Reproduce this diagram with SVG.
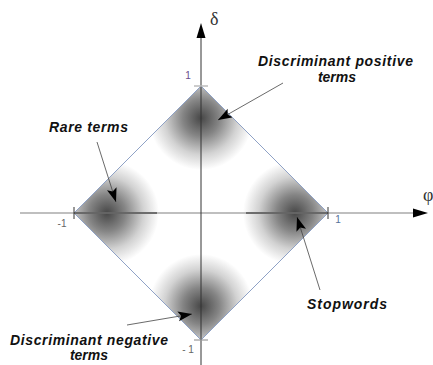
<svg xmlns="http://www.w3.org/2000/svg" width="433" height="365" viewBox="0 0 433 365">
<style>
.lbl{font-family:"Liberation Sans",Arial,sans-serif;font-style:italic;font-weight:bold;font-size:14px;fill:#111;text-anchor:middle}
.num{font-family:"Liberation Sans",Arial,sans-serif;font-size:10px;text-anchor:middle}
.greek{font-family:"Liberation Serif","DejaVu Serif",serif;font-size:18px;fill:#333}
.ptr{stroke:#444;stroke-width:0.8;fill:none;marker-end:url(#ah)}
</style>
<defs>
<radialGradient id="blob">
<stop offset="0" stop-color="#333" stop-opacity="0.9"/>
<stop offset="0.35" stop-color="#333" stop-opacity="0.6"/>
<stop offset="0.7" stop-color="#333" stop-opacity="0.22"/>
<stop offset="1" stop-color="#333" stop-opacity="0"/>
</radialGradient>
<clipPath id="dc"><polygon points="201,86 328,213 201,340 74,213"/></clipPath>
<marker id="ah" markerUnits="userSpaceOnUse" markerWidth="15" markerHeight="11" refX="14" refY="5" orient="auto" viewBox="0 0 15 11">
<path d="M0,0 L14,5 L0,10 L3,5 z" fill="#000"/>
</marker>
</defs>
<g id="diamond">
<polygon points="201,86 328,213 201,340 74,213" fill="#fff"/>
<g clip-path="url(#dc)">
<circle cx="201" cy="118" r="52" fill="url(#blob)"/>
<circle cx="107" cy="213" r="52" fill="url(#blob)"/>
<circle cx="295" cy="213" r="52" fill="url(#blob)"/>
<circle cx="201" cy="306" r="52" fill="url(#blob)"/>
</g>
<polygon points="201,86 328,213 201,340 74,213" fill="none" stroke="#8fa2c6" stroke-width="1"/>
</g>
<g id="axes">
<line x1="20" y1="213" x2="414" y2="213" stroke="#aaa" stroke-width="1.5"/>
<line x1="74" y1="213" x2="157" y2="213" stroke="#555" stroke-width="1.5"/>
<line x1="246" y1="213" x2="328" y2="213" stroke="#555" stroke-width="1.5"/>
<polygon points="428,213 413,208.5 413,217.5" fill="#000"/>
<line x1="201" y1="37" x2="201" y2="365" stroke="#333" stroke-width="1"/>
<polygon points="201,23 196.5,38 205.5,38" fill="#000"/>
<line x1="194" y1="86" x2="208" y2="86" stroke="#bbb" stroke-width="1.5"/>
<line x1="194" y1="340" x2="208" y2="340" stroke="#999" stroke-width="1.2"/>
<line x1="74" y1="207" x2="74" y2="219" stroke="#333" stroke-width="1"/>
<line x1="328" y1="207" x2="328" y2="219" stroke="#333" stroke-width="1"/>
<text class="greek" x="210" y="25">δ</text>
<text class="greek" x="423" y="201">φ</text>
<text class="num" x="188" y="79" fill="#6a4c8c">1</text>
<text class="num" x="62" y="227" fill="#666">-1</text>
<text class="num" x="338" y="223" fill="#55709a">1</text>
<text class="num" x="188" y="353" fill="#666">- 1</text>
</g>
<g id="connectors">
<line class="ptr" x1="283" y1="83" x2="218" y2="120"/>
<line class="ptr" x1="97" y1="142" x2="116" y2="202"/>
<line class="ptr" x1="320" y1="290" x2="297" y2="217"/>
<line class="ptr" x1="127" y1="325" x2="192" y2="314"/>
</g>
<g id="discriminant-positive">
<text class="lbl" x="335.5" y="66" textLength="155" lengthAdjust="spacing">Discriminant positive</text>
<text class="lbl" x="337" y="82">terms</text>
</g>
<g id="rare-terms">
<text class="lbl" x="88.5" y="132" textLength="79" lengthAdjust="spacing">Rare terms</text>
</g>
<g id="stopwords">
<text class="lbl" x="347" y="309" textLength="80" lengthAdjust="spacing">Stopwords</text>
</g>
<g id="discriminant-negative">
<text class="lbl" x="89" y="345" textLength="158" lengthAdjust="spacing">Discriminant negative</text>
<text class="lbl" x="89" y="360">terms</text>
</g>
</svg>
